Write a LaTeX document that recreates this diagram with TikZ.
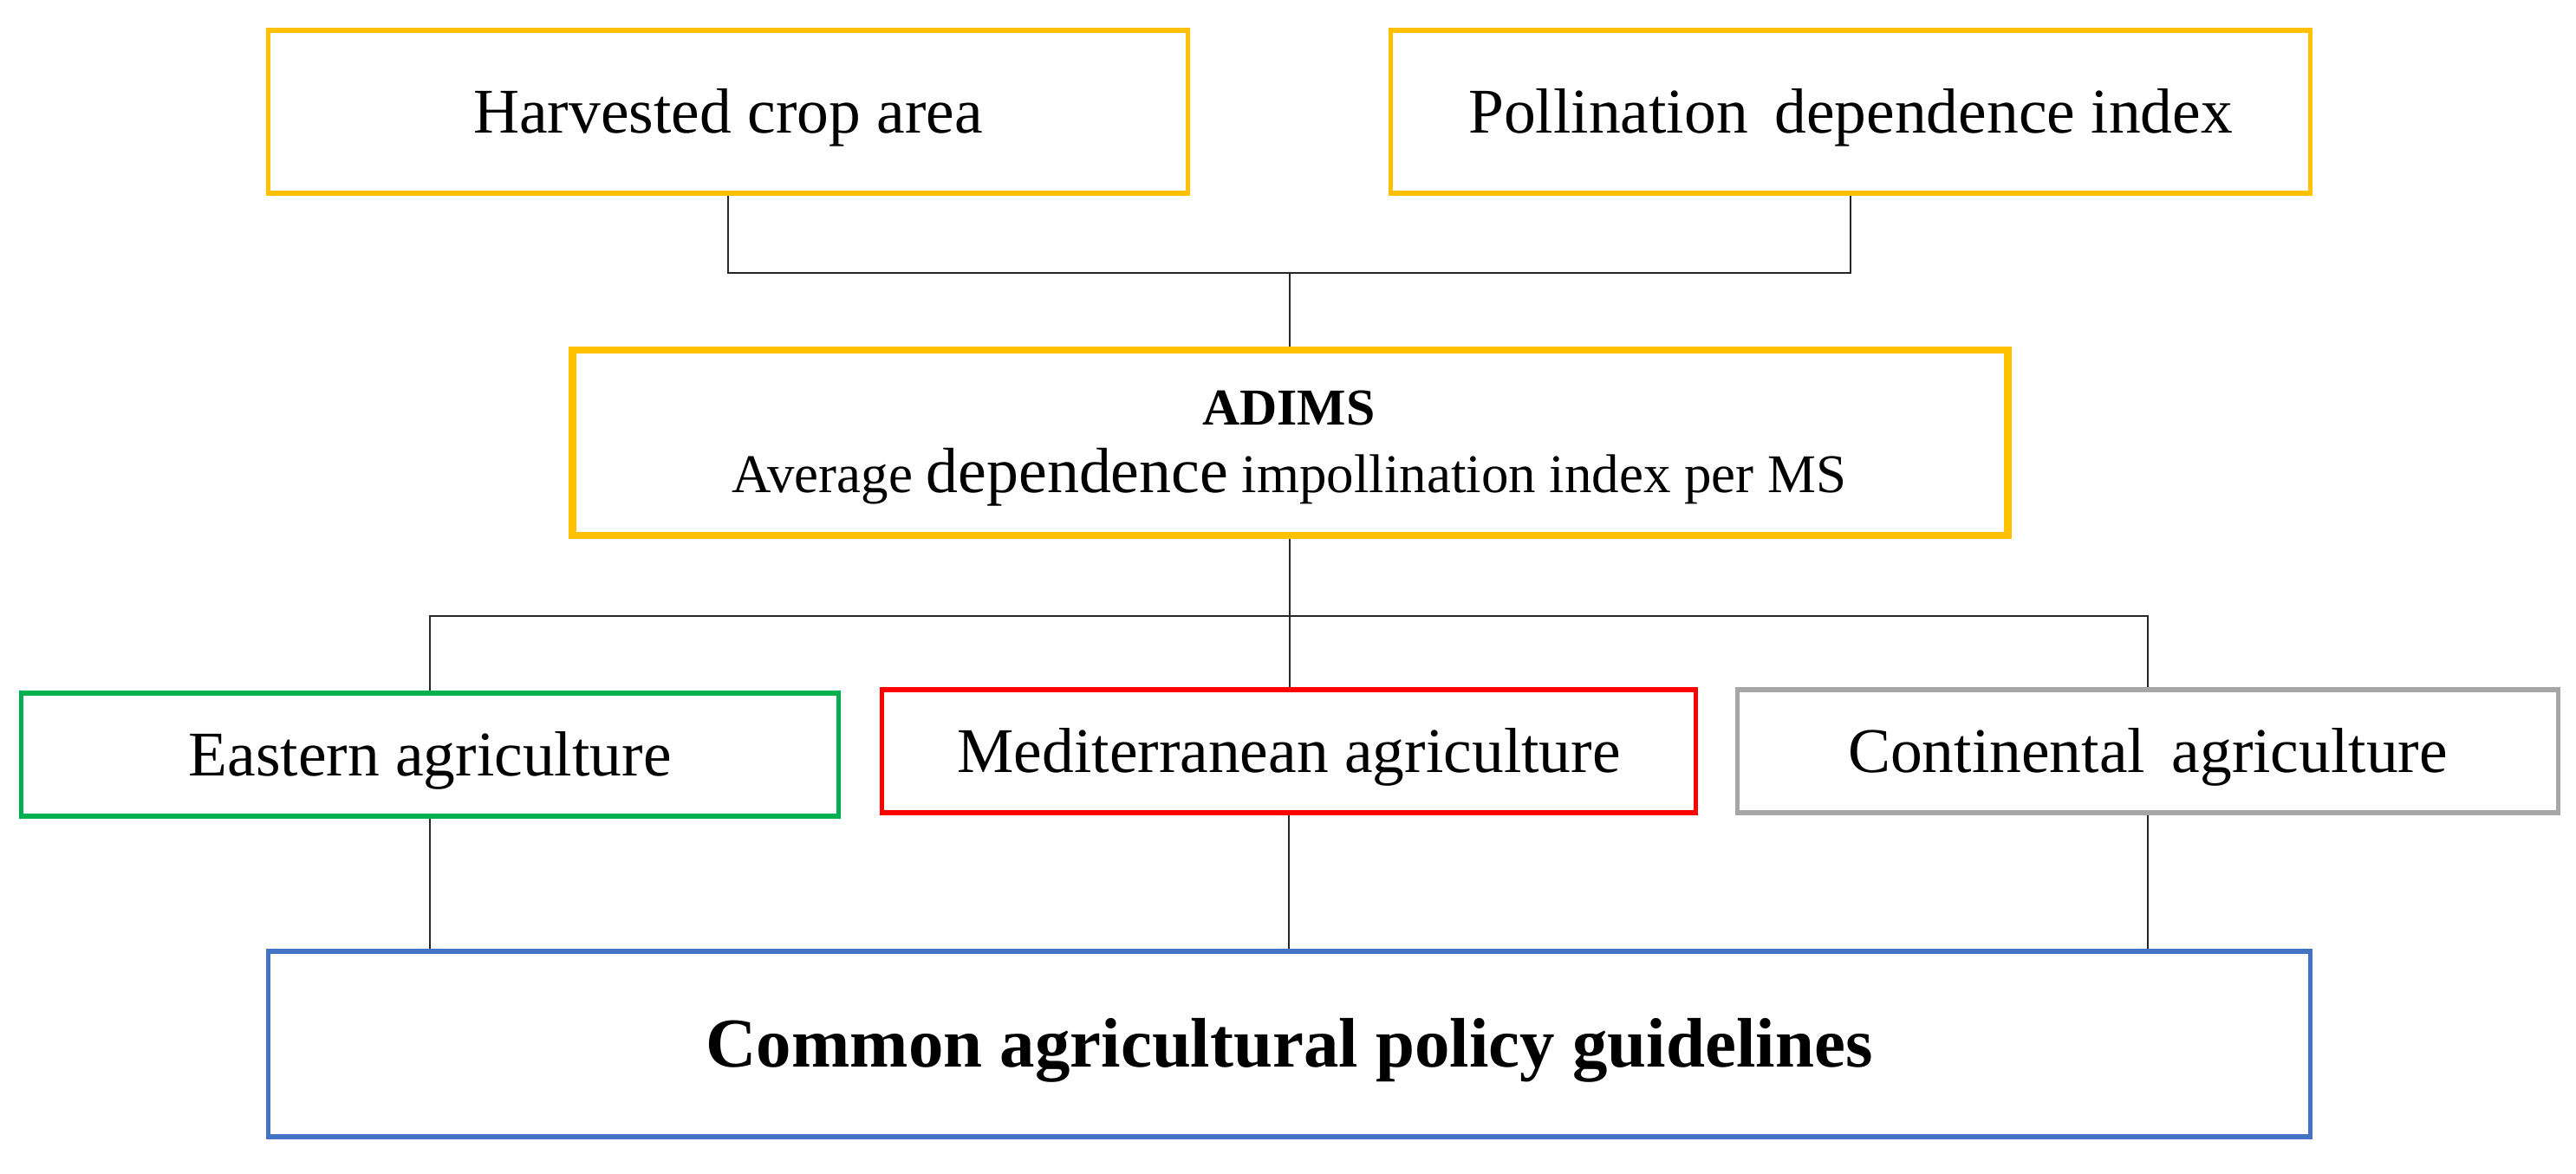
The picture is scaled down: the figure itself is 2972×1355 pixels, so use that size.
\documentclass[tikz,border=0pt]{standalone}
\usepackage{fontspec}
\setmainfont{Liberation Serif}
\definecolor{cgold}{HTML}{FFC000}
\definecolor{cgreen}{HTML}{00B050}
\definecolor{cred}{HTML}{FF0000}
\definecolor{cgray}{HTML}{A6A6A6}
\definecolor{cblue}{HTML}{4472C4}
\tikzset{
  box/.style={draw, rectangle, line width=1.55pt, inner sep=0pt, fill=white,
    text height=13.8pt, text depth=0pt, font=\fontsize{20.9}{25}\selectfont},
  conn/.style={draw=black!85, line width=0.6pt},
  txt/.style={inner sep=0pt, anchor=base}
}
\begin{document}
\begin{tikzpicture}[x=0.01cm, y=-0.01cm]
\useasboundingbox (0,0) rectangle (2972,1355);
% boxes
\node[box, draw=cgold, minimum width=10.6cm, minimum height=1.88cm] (harv) at (840,129) {Harvested crop area};
\node[box, draw=cgold, minimum width=10.6cm, minimum height=1.88cm] (poll) at (2135,129) {Pollination\, dependence index};
\node[box, draw=cgold, line width=2.4pt, minimum width=16.55cm, minimum height=2.14cm] (adims) at (1488.5,511) {};
\node[txt, font=\fontsize{17}{20}\selectfont\bfseries] (adimsA) at (1487,491) {ADIMS};
\node[txt, font=\fontsize{17.9}{21}\selectfont] (adimsB) at (1487.5,568) {Average {\fontsize{21}{25}\selectfont dependence} impollination index per MS};
\node[box, draw=cgreen, minimum width=9.42cm, minimum height=1.42cm] (east) at (496,871) {Eastern agriculture};
\node[box, draw=cred, minimum width=9.38cm, minimum height=1.42cm] (med) at (1487,867) {Mediterranean agriculture};
\node[box, draw=cgray, minimum width=9.46cm, minimum height=1.42cm] (cont) at (2478,867) {Continental\, agriculture};
\node[box, draw=cblue, minimum width=23.55cm, minimum height=2.14cm, text height=15.2pt, font=\fontsize{23}{27}\selectfont\bfseries] (cap) at (1487.5,1205) {Common agricultural policy guidelines};
% connectors
\coordinate (j1) at (1488,315);
\coordinate (j2) at (1488,711);
\draw[conn] (harv.south) |- (j1) -| (poll.south);
\draw[conn] (j1) -- (j1 |- adims.north);
\draw[conn] (j2 |- adims.south) -- (j2);
\draw[conn] (east.north) |- (j2) -| (cont.north);
\draw[conn] (j2) -- (j2 |- med.north);
\draw[conn] (east.south) -- (east.south |- cap.north);
\draw[conn] (med.south) -- (med.south |- cap.north);
\draw[conn] (cont.south) -- (cont.south |- cap.north);
\end{tikzpicture}
\end{document}
